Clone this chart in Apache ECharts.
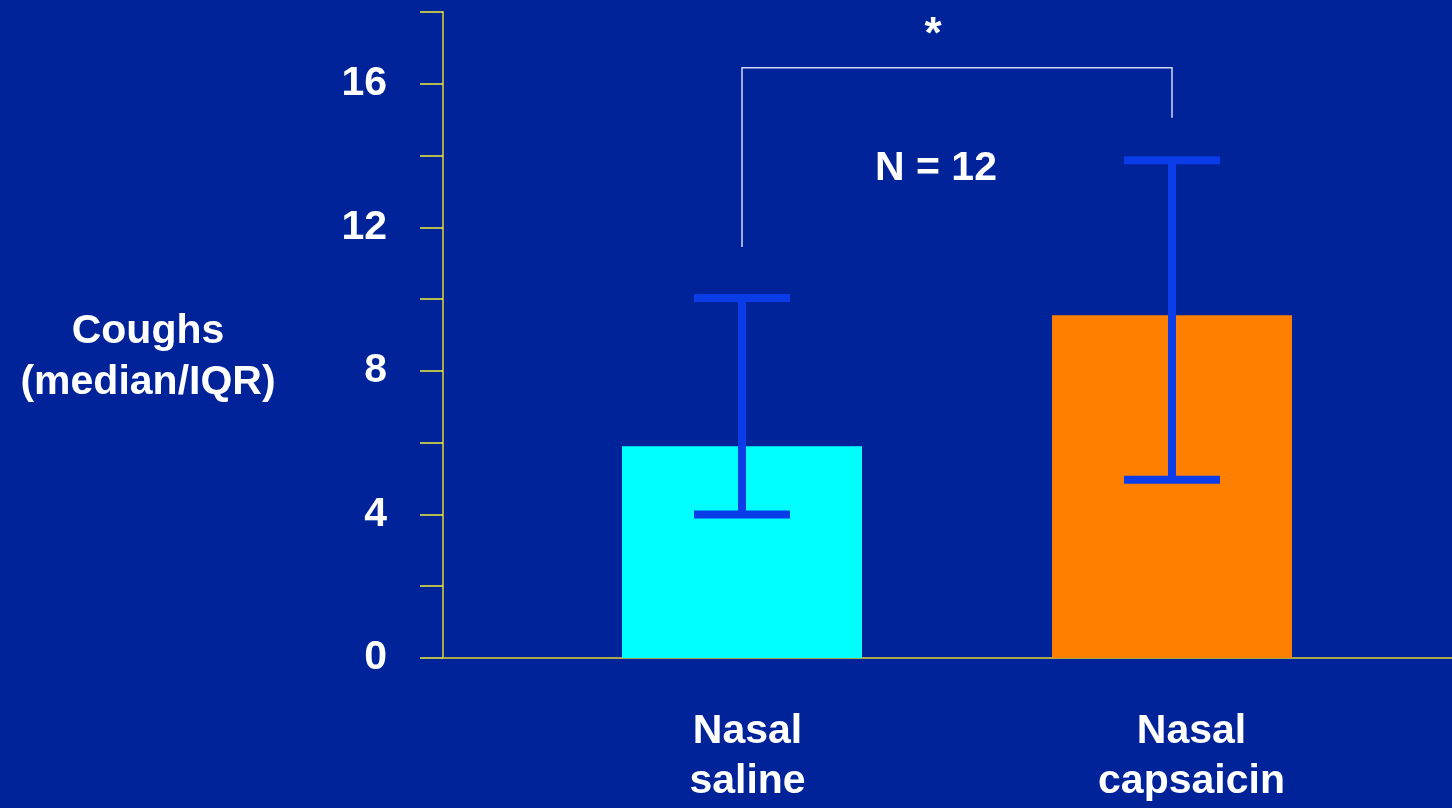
<!DOCTYPE html>
<html>
<head>
<meta charset="utf-8">
<script src="https://cdn.jsdelivr.net/npm/echarts@6/dist/echarts.min.js"></script>
<style>
  html, body { margin: 0; padding: 0; background: #00239a; }
  #chart { width: 1452px; height: 808px; }
</style>
</head>
<body>
<div id="chart"></div>
<script>
// data
const categories = ['Nasal\nsaline', 'Nasal\ncapsaicin'];
const medians = [5.9, 9.55];
const iqrLow = [4.0, 4.97];
const iqrHigh = [10.03, 13.87];
// significance bracket: left foot, top, right foot
const bracket = [11.45, 16.45, 15.05];
const yTicks = { min: 0, max: 18, step: 2, labelEvery: 4 };

const FONT = '"Liberation Sans", Arial, sans-serif';
const barColors = ['#00ffff', '#ff8000'];
const labelShift = [11, 39]; // left padding to nudge labels like the slide

const chart = echarts.init(document.getElementById('chart'));

chart.setOption({
  backgroundColor: '#00239a',
  animation: false,
  grid: [
    { left: 443, right: 0, top: 12, bottom: 150 },
    { left: 527, right: 65, top: 12, bottom: 150 }
  ],
  xAxis: [
    {
      gridIndex: 0, type: 'value', min: 0, max: 1,
      axisLine: { show: true, lineStyle: { color: '#a8a848', width: 2 } },
      axisTick: { show: false }, axisLabel: { show: false }, splitLine: { show: false }
    },
    {
      gridIndex: 1, type: 'category', data: categories,
      axisLine: { show: false }, axisTick: { show: false },
      axisLabel: {
        margin: 49,
        formatter: (v, i) => '{c' + i + '|' + v + '}',
        rich: {
          c0: { color: '#fff', fontFamily: FONT, fontWeight: 'bold', fontSize: 41, lineHeight: 50, padding: [0, 0, 0, labelShift[0]], align: 'center' },
          c1: { color: '#fff', fontFamily: FONT, fontWeight: 'bold', fontSize: 41, lineHeight: 50, padding: [0, 0, 0, labelShift[1]], align: 'center' }
        }
      }
    }
  ],
  yAxis: [
    {
      gridIndex: 0, type: 'value', min: yTicks.min, max: yTicks.max, interval: yTicks.step,
      axisLine: { show: true, lineStyle: { color: '#a8a848', width: 2 } },
      axisTick: { show: true, inside: false, length: 23, lineStyle: { color: '#eeee3c', width: 1.5 } },
      splitLine: { show: false },
      axisLabel: {
        margin: 56, color: '#fff', fontFamily: FONT, fontWeight: 'bold', fontSize: 41,
        formatter: v => (v % yTicks.labelEvery === 0 && v < yTicks.max) ? String(v) : ''
      }
    },
    {
      gridIndex: 1, type: 'value', min: yTicks.min, max: yTicks.max, show: false
    }
  ],
  series: [
    {
      type: 'bar', xAxisIndex: 1, yAxisIndex: 1, barWidth: 240,
      data: medians.map((v, i) => ({ value: v, itemStyle: { color: barColors[i] } }))
    },
    {
      // IQR whiskers
      type: 'custom', xAxisIndex: 1, yAxisIndex: 1, z: 5,
      data: categories.map((c, i) => [i, iqrLow[i], iqrHigh[i]]),
      renderItem: (params, api) => {
        const lo = api.coord([api.value(0), api.value(1)]);
        const hi = api.coord([api.value(0), api.value(2)]);
        const half = 48;
        const st = { stroke: '#0a3ce8', lineWidth: 8 };
        return {
          type: 'group',
          children: [
            { type: 'line', shape: { x1: lo[0], y1: lo[1], x2: hi[0], y2: hi[1] }, style: st },
            { type: 'line', shape: { x1: lo[0] - half, y1: lo[1], x2: lo[0] + half, y2: lo[1] }, style: st },
            { type: 'line', shape: { x1: hi[0] - half, y1: hi[1], x2: hi[0] + half, y2: hi[1] }, style: st }
          ]
        };
      }
    },
    {
      // significance bracket
      type: 'custom', xAxisIndex: 1, yAxisIndex: 1, z: 4,
      data: [bracket],
      renderItem: (params, api) => {
        const pts = [
          api.coord([0, api.value(0)]),
          api.coord([0, api.value(1)]),
          api.coord([1, api.value(1)]),
          api.coord([1, api.value(2)])
        ];
        return {
          type: 'polyline',
          shape: { points: pts },
          style: { stroke: '#d4d8f4', lineWidth: 1.5, fill: null }
        };
      }
    }
  ],
  graphic: [
    {
      type: 'text', x: 148, y: 357,
      style: {
        text: 'Coughs\n(median/IQR)', fill: '#fff', font: 'bold 41px ' + FONT,
        lineHeight: 51, align: 'center', verticalAlign: 'middle'
      }
    },
    {
      type: 'text', x: 936, y: 169,
      style: { text: 'N = 12', fill: '#fff', font: 'bold 41px ' + FONT, align: 'center', verticalAlign: 'middle' }
    },
    {
      type: 'text', x: 933, y: 36,
      style: { text: '*', fill: '#fff', font: 'bold 44px ' + FONT, align: 'center', verticalAlign: 'middle' }
    }
  ]
});
</script>
</body>
</html>
